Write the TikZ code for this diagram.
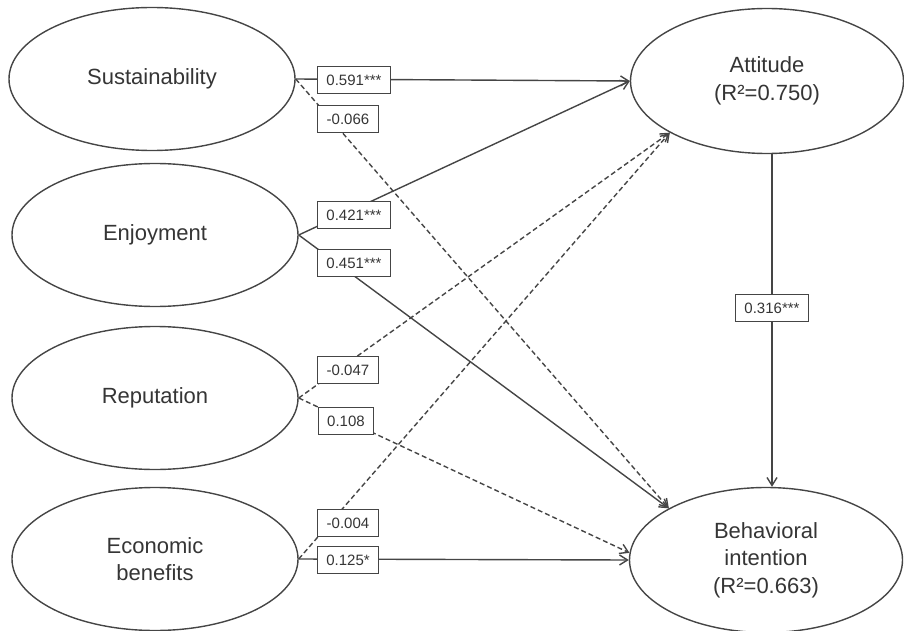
\documentclass[tikz,border=0pt]{standalone}
\usepackage{fontspec}
\setmainfont{Liberation Sans}
\usetikzlibrary{shapes.geometric,arrows.meta}
\definecolor{linec}{HTML}{454545}
\definecolor{textc}{HTML}{353535}
\begin{document}
\begin{tikzpicture}[x=1pt,y=-1pt,
  latent/.style={ellipse, draw=linec, line width=1.4pt, inner sep=0pt, text=textc,
    font=\fontsize{22}{27.5}\selectfont, align=center},
  leftlat/.style={latent, minimum width=286pt, minimum height=143pt},
  rightlat/.style={latent, minimum width=273pt, minimum height=145pt},
  coef/.style={draw=linec, line width=1.2pt, fill=white, text=textc,
    font=\fontsize{15}{16}\selectfont, inner xsep=9pt, inner ysep=0pt, minimum height=27pt},
  sig/.style={draw=linec, line width=1.4pt, -{Straight Barb[length=8pt,width=10pt]}},
  nsig/.style={sig, dash pattern=on 5pt off 3pt}]
\useasboundingbox (0,0) rectangle (904,631);
% latent variables
\node[leftlat] (sus) at (152,79) {Sustainability};
\node[leftlat] (enj) at (155,235) {Enjoyment};
\node[leftlat] (rep) at (155,398) {Reputation};
\node[leftlat] (eco) at (155,559) {Economic\\benefits};
\node[rightlat] (att) at (767,81) {Attitude\\(R²=0.750)};
\node[rightlat] (bi) at (766,560) {Behavioral\\intention\\(R²=0.663)};
% paths
\coordinate (vx) at (772,308);
\draw[sig] (sus.east) -- (att.west);
\draw[nsig] (sus.east) -- (bi.152);
\draw[sig] (enj.east) -- (att.west);
\draw[sig] (enj.east) -- (bi.152);
\draw[nsig] (rep.east) -- (att.208);
\draw[nsig] (rep.east) -- (bi.177);
\draw[nsig] (eco.east) -- (att.208);
\draw[sig] (eco.east) -- (bi.west);
\draw[sig] (att.south -| vx) -- (bi.north -| vx);
% coefficients
\node[coef] (c1) at (354,80) {0.591***};
\node[coef] (c2) at (348,119) {-0.066};
\node[coef] (c3) at (354,215) {0.421***};
\node[coef] (c4) at (354,263) {0.451***};
\node[coef] (c5) at (348,370) {-0.047};
\node[coef] (c6) at (346,421) {0.108};
\node[coef] (c8) at (348,523) {-0.004};
\node[coef] (c9) at (348,560) {0.125*};
\node[coef] (c7) at (vx) {0.316***};
\end{tikzpicture}
\end{document}
